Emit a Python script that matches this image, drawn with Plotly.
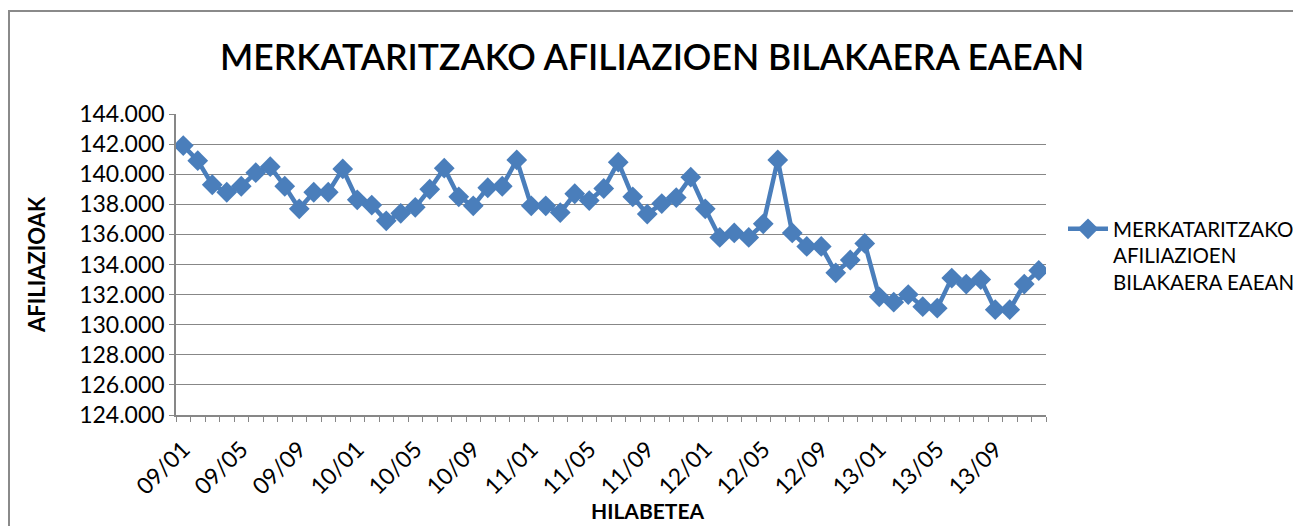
import plotly.graph_objects as go

# Months 2009/01 .. 2013/12
months = [f"{y:02d}/{m:02d}" for y in range(9, 14) for m in range(1, 13)]

values = [
    141900, 140900, 139300, 138800, 139200, 140100, 140500, 139200, 137700, 138800,
    138800, 140350, 138300, 137950, 136900, 137400, 137800, 139000, 140400, 138500,
    137900, 139100, 139200, 140950, 137900, 137900, 137450, 138700, 138250, 139050,
    140800, 138500, 137350, 138050, 138450, 139800, 137700, 135800, 136100, 135800,
    136700, 140950, 136100, 135200, 135200, 133450, 134300, 135400, 131850, 131500,
    132000, 131200, 131100, 133100, 132700, 133000, 131000, 131000, 132700, 133600,
]

tick_labels = [m if i % 4 == 0 else "" for i, m in enumerate(months)]
y_ticks = list(range(124000, 144001, 2000))

series_name = "MERKATARITZAKO<br>AFILIAZIOEN<br>BILAKAERA EAEAN"
title_text = "MERKATARITZAKO AFILIAZIOEN BILAKAERA EAEAN"

FONT = "Lato"
BLUE = "#4A7EBB"
GRAY = "#878787"

OFF = 8  # page body margin
SW, SH = 1301, 526
# target plot area in screenshot pixels
X0, X1, Y0, Y1 = 176, 1046, 114, 415
W, H = SW - OFF, SH - OFF
L, T = X0 - OFF, Y0 - OFF
R = W - (X1 - OFF)
B = H - (Y1 - OFF)
pw, ph = X1 - X0, Y1 - Y0


def px(x):
    return (x - X0) / pw


def py(y):
    return (Y1 - y) / ph


fig = go.Figure()
fig.add_trace(go.Scatter(
    x=months, y=values, mode="lines+markers", name=series_name,
    line=dict(color=BLUE, width=4.5),
    marker=dict(symbol="diamond", size=16, color=BLUE),
    showlegend=True,
))

fig.update_layout(
    width=W, height=H,
    margin=dict(l=L, r=R, t=T, b=B, autoexpand=False),
    paper_bgcolor="white", plot_bgcolor="white",
    font=dict(family=FONT, color="black"),
    separators=",.",
    showlegend=True,
    legend=dict(x=px(1063), y=py(209), xanchor="left", yanchor="top",
                font=dict(size=20.5, family=FONT), valign="top",
                bgcolor="rgba(0,0,0,0)", tracegroupgap=0, itemwidth=40),
    xaxis=dict(
        type="category", categoryorder="array", categoryarray=months,
        range=[-0.5, len(months) - 0.5],
        tickmode="array", tickvals=months, ticktext=tick_labels,
        tickson="boundaries", ticks="outside", ticklen=5, tickcolor=GRAY,
        tickangle=-45, tickfont=dict(size=23, family=FONT),
        ticklabelstandoff=10,
        showline=True, linecolor=GRAY, linewidth=1.5,
        showgrid=False, zeroline=False,
    ),
    yaxis=dict(
        range=[124000, 144000], tickmode="array", tickvals=y_ticks,
        tickformat=",.0f", ticks="outside", ticklen=5, tickcolor=GRAY,
        tickfont=dict(size=23, family=FONT),
        showline=True, linecolor=GRAY, linewidth=1.5,
        showgrid=True, gridcolor=GRAY, gridwidth=1.2, zeroline=False,
    ),
    annotations=[
        dict(text=title_text, x=px(652), y=py(57), xref="paper", yref="paper",
             showarrow=False, xanchor="center", yanchor="middle",
             font=dict(size=35.5, family=FONT, color="black", weight=600)),
        dict(text="<b>AFILIAZIOAK</b>", x=px(36), y=py(265), xref="paper", yref="paper",
             showarrow=False, xanchor="center", yanchor="middle", textangle=-90,
             font=dict(size=22, family=FONT, color="black")),
        dict(text="<b>HILABETEA</b>", x=px(647), y=py(511), xref="paper", yref="paper",
             showarrow=False, xanchor="center", yanchor="middle",
             font=dict(size=21, family=FONT, color="black")),
    ],
    shapes=[
        dict(type="rect", xref="paper", yref="paper",
             x0=px(9), x1=px(1330), y0=py(560), y1=py(11),
             line=dict(color="#8a8a8a", width=2), fillcolor="rgba(0,0,0,0)", layer="below"),
    ],
)

fig.write_html("out.html")
